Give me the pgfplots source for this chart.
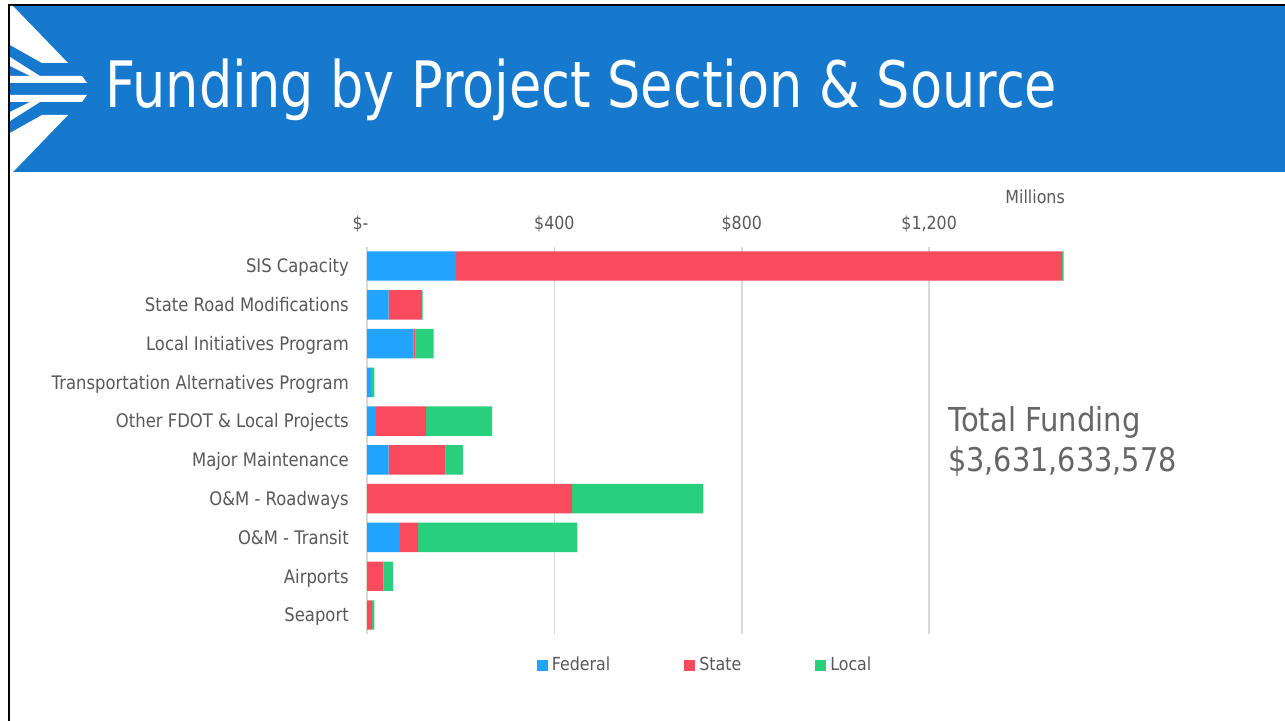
\documentclass[border=0pt]{standalone}
\usepackage{pgfplots}
\pgfplotsset{compat=1.18}
\usepackage{fontspec}
\setmainfont{DejaVu Sans}[FakeStretch=0.88]
\newfontfamily\titlefont{DejaVu Sans}[FakeStretch=0.82]
\definecolor{hdr}{RGB}{23,121,206}
\definecolor{fed}{RGB}{34,163,254}
\definecolor{sta}{RGB}{249,74,94}
\definecolor{loc}{RGB}{40,208,126}
\definecolor{txt}{RGB}{89,89,89}
\definecolor{tot}{RGB}{102,102,102}
\definecolor{grd}{RGB}{217,217,217}
\newcommand{\fs}[1]{\fontsize{#1}{#1}\selectfont}
\begin{document}
\begin{tikzpicture}
\useasboundingbox (0,0) rectangle (963.75pt,540.75pt);
\begin{scope}[x=0.75pt,y=-0.75pt,shift={(0pt,540.75pt)}]
\fill[white] (0,0) rectangle (1285,721);
% header
\fill[hdr] (9,5) rectangle (1285,172);
\draw[black,line width=1.5pt] (9,721) -- (9,5) -- (1285,5);
% logo
\fill[white] (10,6) -- (13,6) -- (68,63) -- (42,63) -- (10,45) -- cycle;
\fill[white] (10,57) -- (40,76) -- (30,76) -- (10,66) -- cycle;
\fill[white] (10,76) -- (82,76) -- (87,83) -- (10,83) -- cycle;
\fill[white] (10,95) -- (87,95) -- (82,102) -- (10,102) -- cycle;
\fill[white] (10,121) -- (40,102) -- (30,102) -- (10,112) -- cycle;
\fill[white] (10,172) -- (13,172) -- (68,115) -- (42,115) -- (10,133) -- cycle;
\node[anchor=base west,inner sep=0pt,text=white,font=\titlefont\fs{48}] at (105,108) {Funding by Project Section \& Source};
% texts
\node[anchor=east,inner sep=0pt,text=txt,font=\fs{13.5}] at (1065,197) {Millions};
\node[anchor=base west,inner sep=0pt,text=tot,font=\fs{24.75}] at (948,432) {Total Funding};
\node[anchor=base west,inner sep=0pt,text=tot,font=\fs{24.5}] at (948,472) {\$3,631,633,578};
\end{scope}
\begin{axis}[
  at={(275.25pt,64.95pt)}, anchor=south west,
  width=523.5pt, height=290.85pt, scale only axis,
  xbar stacked, bar width=22.1pt,
  xmin=0, xmax=1490, ymin=-0.5, ymax=9.5, y dir=reverse,
  axis line style={draw=none}, major tick length=0pt,
  xtick={0,400,800,1200}, xticklabels={{\$-\hphantom{0}\,},{\$400},{\$800},{\$1,200}},
  xticklabel pos=upper,
  xticklabel style={anchor=base, yshift=12.5pt, inner sep=0pt, text=txt, font=\fs{13.5}},
  ytick={0,...,9},
  yticklabels={SIS Capacity,State Road Modifications,Local Initiatives Program,Transportation Alternatives Program,Other FDOT \& Local Projects,Major Maintenance,O\&M - Roadways,O\&M - Transit,Airports,Seaport},
  yticklabel style={anchor=base east, xshift=-13.5pt, yshift=-5.1pt, inner sep=0pt, text=txt, font=\fs{14}},
  xmajorgrids, major grid style={grd, line width=1.1pt},
  legend columns=3,
  legend style={at={(0.483,-0.079)}, anchor=center, draw=none, fill=none,
    font=\fs{13.5}, text=txt, nodes={inner sep=0pt},
    /tikz/every even column/.append style={column sep=55.5pt},
    /tikz/every odd column/.append style={column sep=3pt}},
  legend image code/.code={\fill[#1] (0pt,-4.1pt) rectangle (8.25pt,4.1pt);},
]
\addplot[fill=fed, draw=none] coordinates {(190,0) (46,1) (99,2) (9,3) (19,4) (46,5) (0,6) (70,7) (0,8) (0,9)};
\addplot[fill=sta, draw=none] coordinates {(1294,0) (71,1) (5,2) (0,3) (107,4) (122,5) (438,6) (39,7) (35,8) (11,9)};
\addplot[fill=loc, draw=none] coordinates {(3,0) (2,1) (38,2) (7,3) (141,4) (37,5) (280,6) (340,7) (21,8) (5,9)};
\legend{Federal,State,Local}
\end{axis}
\end{tikzpicture}
\end{document}
